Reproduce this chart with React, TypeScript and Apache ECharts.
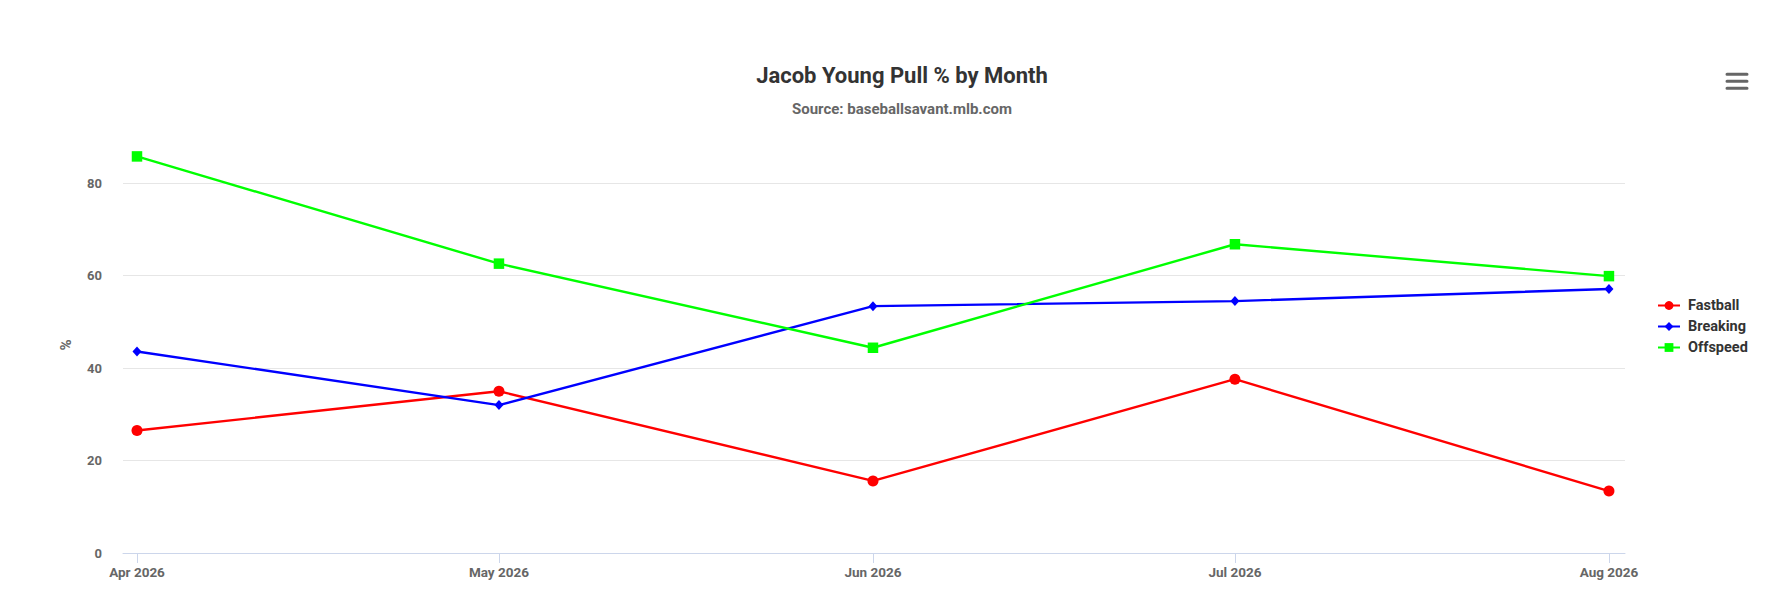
import React, { useEffect, useRef } from 'react';
import * as echarts from 'echarts';

const monthDates = ['2026-04-01', '2026-05-01', '2026-06-01', '2026-07-01', '2026-08-01'];
const monthNames = ['Jan', 'Feb', 'Mar', 'Apr', 'May', 'Jun', 'Jul', 'Aug', 'Sep', 'Oct', 'Nov', 'Dec'];
const seriesNames = ['Fastball', 'Breaking', 'Offspeed'];
const fastball = [26.5, 35.0, 15.6, 37.6, 13.4];
const breaking = [43.6, 32.0, 53.4, 54.5, 57.1];
const offspeed = [85.8, 62.6, 44.4, 66.8, 59.9];
const yTicks = [0, 20, 40, 60, 80];

const FONT = 'Roboto';

export default function App() {
  const ref = useRef<HTMLDivElement>(null);
  useEffect(() => {
    document.body.style.margin = '0';
    const chart = echarts.init(ref.current!, undefined, { renderer: 'svg' });
    const day = 86400000;
    const ts = monthDates.map((d) => Date.parse(d + 'T00:00:00Z'));
    const pair = (vals: number[]) => vals.map((v, i) => [ts[i], v]);
    const fmt = (v: number) => {
      const d = new Date(v);
      return monthNames[d.getUTCMonth()] + ' ' + d.getUTCFullYear();
    };
    const menuLine = (y: number) => ({
      type: 'rect',
      shape: { x: 1725.5, y, width: 23, height: 3, r: 1.5 },
      style: { fill: '#666666' },
    });
    chart.setOption({
      animation: false,
      title: {
        text: 'Jacob Young Pull % by Month',
        subtext: 'Source: baseballsavant.mlb.com',
        left: 897,
        top: 59.5,
        textAlign: 'center',
        itemGap: 15,
        textStyle: { fontFamily: FONT, fontWeight: 'bold', fontSize: 22, color: '#333333' },
        subtextStyle: { fontFamily: FONT, fontWeight: 'bold', fontSize: 15, color: '#666666' },
      },
      legend: {
        orient: 'vertical',
        left: 1652,
        top: 292.5,
        itemWidth: 22,
        itemHeight: 11,
        itemGap: 5,
        data: seriesNames,
        textStyle: {
          fontFamily: FONT,
          fontWeight: 'bold',
          fontSize: 14.5,
          color: '#333333',
          lineHeight: 16,
          padding: [0, 0, 0, 3],
        },
      },
      grid: { left: 123, right: 165, top: 137, bottom: 49 },
      xAxis: {
        type: 'value',
        min: ts[0] - 1.16 * day,
        max: ts[ts.length - 1] + 1.33 * day,
        axisLine: { show: true, onZero: false, lineStyle: { color: '#ccd6eb' } },
        axisTick: { show: true, customValues: ts, length: 10, lineStyle: { color: '#ccd6eb' } },
        axisLabel: {
          customValues: ts,
          formatter: fmt,
          fontFamily: FONT,
          fontWeight: 'bold',
          fontSize: 13.5,
          color: '#666666',
          margin: 12,
        },
        splitLine: { show: false },
      },
      yAxis: {
        type: 'value',
        min: 0,
        max: 90,
        name: '%',
        nameLocation: 'middle',
        nameGap: 50,
        nameTextStyle: { fontFamily: FONT, fontWeight: 'bold', fontSize: 15, color: '#666666' },
        axisLine: { show: false },
        axisTick: { show: false, customValues: yTicks },
        axisLabel: {
          customValues: yTicks,
          margin: 21,
          fontFamily: FONT,
          fontWeight: 'bold',
          fontSize: 13,
          color: '#666666',
        },
        splitLine: { show: true, lineStyle: { color: '#e6e6e6', width: 1 } },
      },
      series: [
        {
          name: seriesNames[0],
          type: 'line',
          data: pair(fastball),
          symbol: 'circle',
          symbolSize: 11,
          color: '#ff0000',
          lineStyle: { width: 2.4, color: '#ff0000' },
          itemStyle: { color: '#ff0000' },
        },
        {
          name: seriesNames[1],
          type: 'line',
          data: pair(breaking),
          symbol: 'diamond',
          symbolSize: [9, 10],
          color: '#0000ff',
          lineStyle: { width: 2.4, color: '#0000ff' },
          itemStyle: { color: '#0000ff' },
        },
        {
          name: seriesNames[2],
          type: 'line',
          data: pair(offspeed),
          symbol: 'rect',
          symbolSize: 10.5,
          color: '#00ff00',
          lineStyle: { width: 2.4, color: '#00ff00' },
          itemStyle: { color: '#00ff00' },
        },
      ],
      graphic: [
        { type: 'group', children: [menuLine(72.8), menuLine(79.8), menuLine(86.8)] },
      ],
    });
    return () => chart.dispose();
  }, []);
  return <div ref={ref} style={{ width: 1790, height: 602 }} />;
}
